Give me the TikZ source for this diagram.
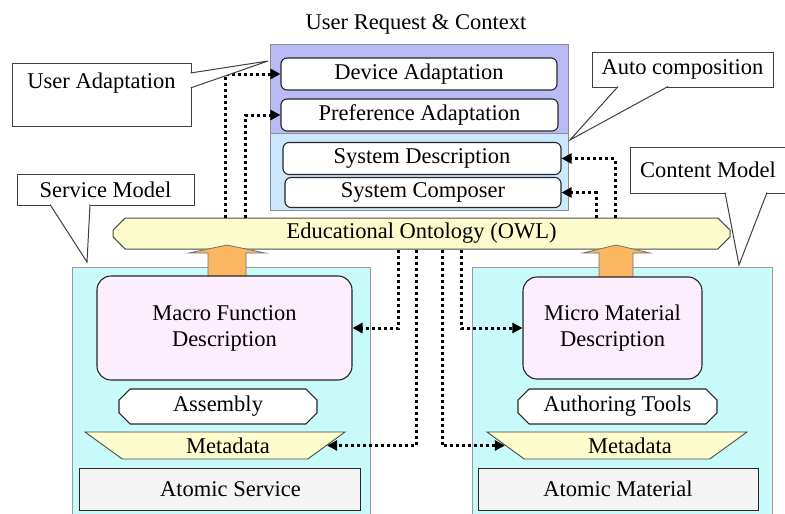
\documentclass[tikz,border=0pt]{standalone}
\usepackage{fontspec}
\setmainfont{Liberation Serif}
\usepackage{tikz}
\usetikzlibrary{arrows.meta,shapes.misc,shapes.geometric}
\definecolor{userPurple}{RGB}{186,186,245}
\definecolor{sysBlue}{RGB}{204,232,255}
\definecolor{modelCyan}{RGB}{200,250,250}
\definecolor{descPink}{RGB}{252,238,252}
\definecolor{ontoYellow}{RGB}{252,252,204}
\definecolor{liftOrange}{RGB}{250,182,96}
\definecolor{atomGray}{RGB}{244,244,244}

\tikzset{
  plainbox/.style={draw=black!85, line width=1.1pt, rounded corners=6pt, fill=white, inner sep=0pt},
  descbox/.style={plainbox, fill=descPink, rounded corners=14pt, align=center},
  cutbox/.style={chamfered rectangle, chamfered rectangle xsep=8pt, draw=black!85, line width=1.1pt, fill=white, inner sep=0pt},
  metabox/.style={trapezium, shape border rotate=180, trapezium angle=23, trapezium stretches body,
    draw=black!70, line width=0.9pt, fill=ontoYellow, minimum width=260pt, minimum height=27pt, inner sep=0pt},
  atombox/.style={draw=black!85, line width=1pt, fill=atomGray, inner sep=0pt},
  callbox/.style={draw=black!75, line width=1pt, fill=white, inner sep=0pt},
  callline/.style={draw=black!75, line width=1pt, fill=white},
  dotarrow/.style={line width=3pt, dash pattern=on 3pt off 3pt, -{Triangle[length=10pt,width=10pt]}},
  lift/.style={fill=liftOrange, draw=black!55, line width=0.8pt}
}

\begin{document}
\begin{tikzpicture}[x=1pt,y=-1pt,font=\fontsize{22.5}{26}\selectfont]
  \useasboundingbox[fill=white] (0,0) rectangle (785,514);

  % User request & context panel
  \node (title) at (416,24) {User Request \& Context};
  \draw[fill=userPurple, draw=black!45, line width=0.8pt] (270,44) rectangle (568,133);
  \draw[fill=sysBlue, draw=black!45, line width=0.8pt] (270,133) rectangle (568,210);
  \node[plainbox, minimum width=276pt, minimum height=32pt] (devAd) at (419,74) {Device Adaptation};
  \node[plainbox, minimum width=277pt, minimum height=32pt] (prefAd) at (419.5,115) {Preference Adaptation};
  \node[plainbox, minimum width=278pt, minimum height=32pt] (sysDesc) at (422,158.5) {System Description};
  \node[plainbox, minimum width=276pt, minimum height=30pt] (sysComp) at (423,192.5) {System Composer};

  % Service model and content model
  \draw[fill=modelCyan, draw=black!40, line width=0.8pt] (72,267) rectangle (370,530);
  \draw[fill=modelCyan, draw=black!40, line width=0.8pt] (472,267) rectangle (772,530);

  % Ontology banner
  \node[chamfered rectangle, chamfered rectangle xsep=9pt, draw=black!70, line width=1pt, fill=ontoYellow,
    minimum width=617pt, minimum height=31pt, inner sep=0pt] (onto) at (421.5,233.5) {Educational Ontology (OWL)};

  % Lift arrows into the ontology
  \draw[lift] (208,278) -- (208,253) -- (189,253) -- (227,245) -- (265,253) -- (246,253) -- (246,278) -- cycle;
  \draw[lift] (599,278) -- (599,253) -- (583,253) -- (616,245) -- (650,253) -- (633,253) -- (633,278) -- cycle;

  \node[descbox, minimum width=255pt, minimum height=104pt] (macro) at (224.5,328) {Macro Function\\Description};
  \node[descbox, minimum width=179pt, minimum height=102pt] (micro) at (612.5,328) {Micro Material\\Description};
  \node[cutbox, minimum width=198pt, minimum height=35pt] (assembly) at (218,406.5) {Assembly};
  \node[cutbox, minimum width=199pt, minimum height=35pt] (authoring) at (617.5,406.5) {Authoring Tools};
  \node[metabox] (metaL) at (215,445.5) {\hspace*{26pt}Metadata};
  \node[metabox] (metaR) at (617,445.5) {\hspace*{26pt}Metadata};
  \node[atombox, minimum width=281pt, minimum height=42pt] (atomSvc) at (219.5,489) {\hspace*{22pt}Atomic Service};
  \node[atombox, minimum width=280pt, minimum height=42pt] (atomMat) at (618,489) {Atomic Material};

  % Dotted links from the ontology
  \draw[dotarrow] ([xshift=-196.5pt]onto.north) |- (devAd.west);
  \draw[dotarrow] ([xshift=-176.5pt]onto.north) |- (prefAd.west);
  \draw[dotarrow] ([xshift=193.5pt]onto.north) |- (sysDesc.east);
  \draw[dotarrow] ([xshift=174.5pt]onto.north) |- (sysComp.east);
  \draw[dotarrow] ([xshift=-23.5pt]onto.south) |- (macro.east);
  \draw[dotarrow] ([xshift=-5.5pt]onto.south) |- (metaL.east);
  \draw[dotarrow] ([xshift=20.5pt]onto.south) |- (metaR.west);
  \draw[dotarrow] ([xshift=39.5pt]onto.south) |- (micro.west);

  % Callouts
  \coordinate (userTip) at (268,61);
  \coordinate (svcTip) at (87,262);
  \coordinate (autoTip) at (570,140);
  \coordinate (contTip) at (739,265);
  \node[callbox, minimum width=179pt, minimum height=63pt, text depth=27pt] (userAd) at (101.5,94.5) {User Adaptation};
  \node[callbox, minimum width=177pt, minimum height=31pt] (svcModel) at (105.5,189.5) {Service Model};
  \node[callbox, minimum width=181pt, minimum height=35pt] (autoComp) at (682.5,69.5) {Auto composition};
  \node[callbox, minimum width=170pt, minimum height=46pt] (contModel) at (715,170) {\hspace*{-14pt}Content Model};
  \draw[callline] ([xshift=-1pt,yshift=21.5pt]userAd.east) -- (userTip) -- ([xshift=-1pt,yshift=6.5pt]userAd.east);
  \draw[callline] ([xshift=-55.5pt,yshift=1pt]svcModel.south) -- (svcTip) -- ([xshift=-15.5pt,yshift=1pt]svcModel.south);
  \draw[callline] ([xshift=-64.5pt,yshift=1pt]autoComp.south) -- (autoTip) -- ([xshift=-14.5pt,yshift=1pt]autoComp.south);
  \draw[callline] ([xshift=10pt,yshift=1pt]contModel.south) -- (contTip) -- ([xshift=52pt,yshift=1pt]contModel.south);
\end{tikzpicture}
\end{document}
